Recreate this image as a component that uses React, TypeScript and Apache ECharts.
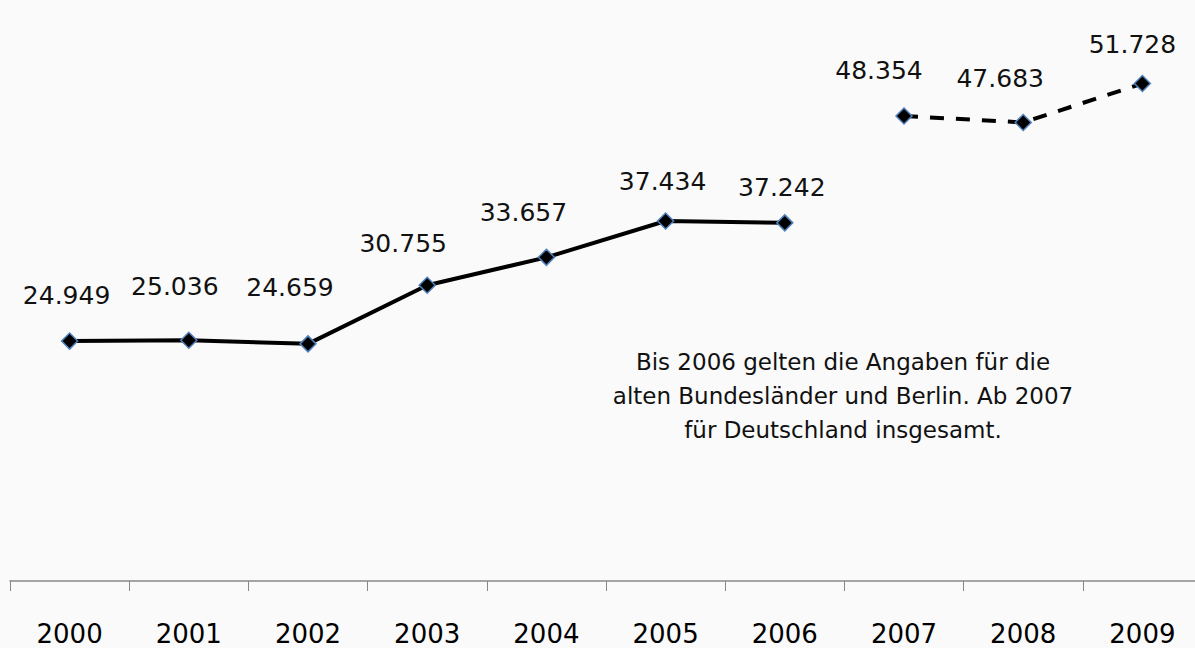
import React, { useEffect, useRef } from "react";
import * as echarts from "echarts";

const years = ["2000", "2001", "2002", "2003", "2004", "2005", "2006", "2007", "2008", "2009"];
const oldStates: (number | null)[] = [24949, 25036, 24659, 30755, 33657, 37434, 37242, null, null, null];
const germany: (number | null)[] = [null, null, null, null, null, null, null, 48354, 47683, 51728];
const note = ["Bis 2006 gelten die Angaben für die", "alten Bundesländer und Berlin. Ab 2007", "für Deutschland insgesamt."];

const fmt = (v: number) => {
  const s = String(Math.round(v));
  return s.replace(/\B(?=(\d{3})+(?!\d))/g, ".");
};

export default function App() {
  const ref = useRef<HTMLDivElement>(null);
  useEffect(() => {
    if (!ref.current) return;
    const chart = echarts.init(ref.current, undefined, { renderer: "svg" });
    const font = "DejaVu Sans";
    // label nudges (dx, rise above point) as placed in the original
    const nudge: [number, number][] = [
      [-3, 45], [-14, 53], [-18, 56], [-24, 41], [-23, 45],
      [-3, 39], [-3, 35], [-25, 45], [-23, 44], [-10, 39],
    ];
    const baseLabel = {
      show: true,
      position: "top" as const,
      distance: 0,
      fontFamily: font,
      fontSize: 25,
      color: "#111",
      formatter: (p: any) => fmt(p.value),
    };
    const toItems = (arr: (number | null)[]) =>
      arr.map((v, i) =>
        v == null
          ? null
          : { value: v, label: { offset: [nudge[i][0], -(nudge[i][1] - 21)] } }
      );
    const marker = {
      symbol: "diamond",
      symbolSize: 16,
      itemStyle: { color: "#000", borderColor: "#4f81bd", borderWidth: 1.5 },
    };
    chart.setOption({
      animation: false,
      backgroundColor: "#fafafa",
      grid: { left: 10, right: 0, top: 4, bottom: 67, containLabel: false },
      xAxis: {
        type: "category",
        data: years,
        boundaryGap: true,
        axisLine: { lineStyle: { color: "#888", width: 1.5 } },
        axisTick: { show: true, length: 10, lineStyle: { color: "#888" } },
        axisLabel: { fontFamily: font, fontSize: 26, color: "#000", margin: 40 },
      },
      yAxis: { type: "value", min: 0, max: 60000, show: false, splitLine: { show: false } },
      series: [
        {
          type: "line",
          data: toItems(oldStates),
          lineStyle: { color: "#000", width: 4 },
          ...marker,
          label: baseLabel,
        },
        {
          type: "line",
          data: toItems(germany),
          lineStyle: { color: "#000", width: 4, type: [14, 12] },
          ...marker,
          label: baseLabel,
        },
      ],
      graphic: [
        {
          type: "text",
          x: 843,
          y: 345,
          style: {
            text: note.join("\n"),
            align: "center",
            verticalAlign: "top",
            fontFamily: font,
            fontSize: 23,
            lineHeight: 34,
            fill: "#111",
          },
        },
      ],
    });
    return () => chart.dispose();
  }, []);
  return (
    <div style={{ position: "fixed", left: 0, top: 0, width: 1195, height: 648, overflow: "hidden" }}>
      <div ref={ref} style={{ width: 1202, height: 648 }} />
    </div>
  );
}
